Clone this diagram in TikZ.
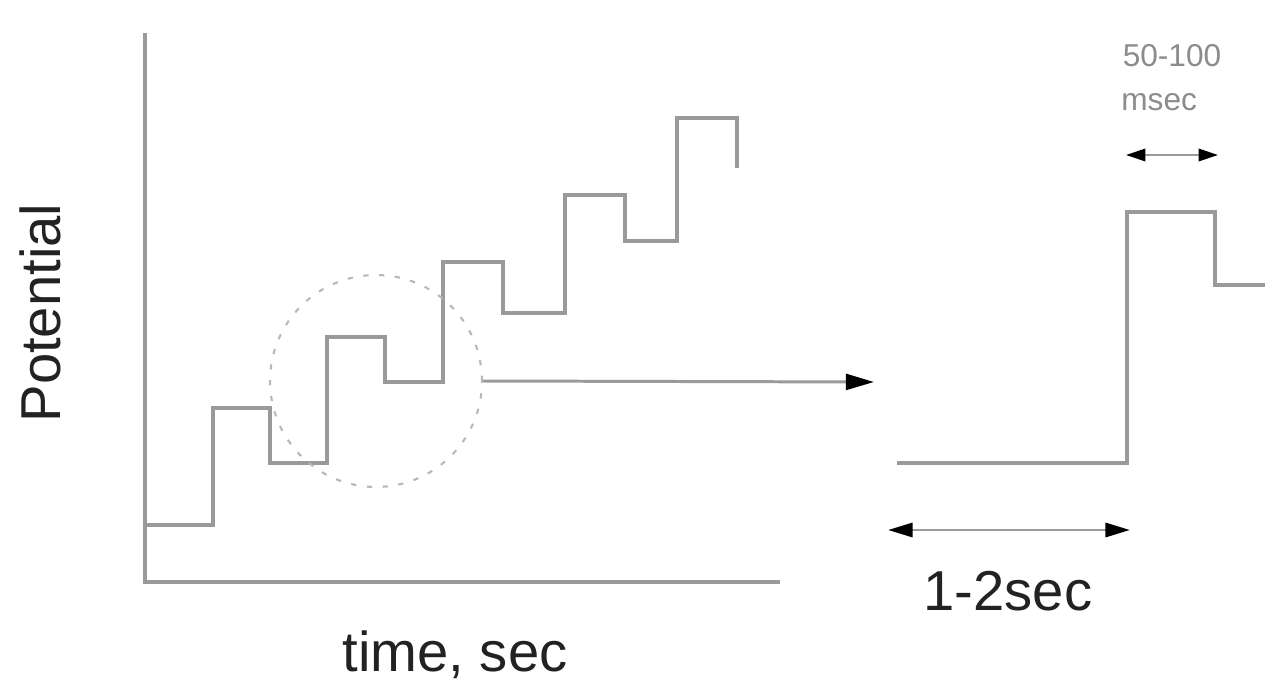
\documentclass[tikz,border=0pt]{standalone}
\usepackage{fontspec}
\setmainfont{Liberation Sans}
\usetikzlibrary{arrows.meta}
\definecolor{trace}{HTML}{9A9A9A}
\definecolor{ink}{HTML}{222222}
\definecolor{faint}{HTML}{8C8C8C}
\tikzset{
  trace/.style={draw=trace, line width=1.9pt, line join=miter},
  zoomring/.style={draw=trace!70, line width=1.2pt, dash pattern=on 3pt off 6pt},
  bigtext/.style={text=ink, font=\fontsize{32}{38}\selectfont, inner sep=0pt},
  smalltext/.style={text=faint, font=\fontsize{18}{22}\selectfont, inner sep=0pt},
  dimarrow/.style={trace, line width=1.7pt, {Triangle[length=14pt,width=8pt,color=black]}-{Triangle[length=14pt,width=8pt,color=black]}},
  smallarrow/.style={trace, line width=1.4pt, {Triangle[length=11pt,width=7pt,color=black]}-{Triangle[length=11pt,width=7pt,color=black]}},
  leadarrow/.style={trace, line width=1.7pt, -{Triangle[length=16pt,width=9pt,color=black]}}
}
\begin{document}
\begin{tikzpicture}[x=0.02cm, y=-0.02cm]
\useasboundingbox (0,0) rectangle (1270,685);

% axes
\coordinate (ytop) at (145,33);
\coordinate (orig) at (145,582);
\coordinate (xend) at (780,582);
\draw[trace] (ytop) -- (orig) -- (xend);

% rising staircase of potential steps
\draw[trace] (145,525) -- (213,525) -- (213,408) -- (270,408) -- (270,463)
  -- (327,463) -- (327,337) -- (385,337) -- (385,382) -- (443,382)
  -- (443,262) -- (503,262) -- (503,313) -- (565,313) -- (565,195)
  -- (625,195) -- (625,241) -- (677,241) -- (677,118) -- (737,118) -- (737,168);

% magnified step
\node[zoomring, circle, minimum size=4.24cm, inner sep=0pt] (ring) at (376,381) {};
\coordinate (lead) at (874,382);
\draw[leadarrow] (ring.east) -- (lead);

% single step in detail
\coordinate (s0) at (897,463);
\coordinate (s1) at (1127,463);
\coordinate (s2) at (1127,212);
\coordinate (s3) at (1215,212);
\coordinate (s4) at (1215,285);
\coordinate (s5) at (1265,285);
\draw[trace] (s0) -- (s1) -- (s2) -- (s3) -- (s4) -- (s5);

% durations
\coordinate (d1a) at (888,530);
\coordinate (d1b) at (1130,530);
\draw[dimarrow] (d1a) -- (d1b);
\coordinate (d2a) at (1126,155);
\coordinate (d2b) at (1218,155);
\draw[smallarrow] (d2a) -- (d2b);

% labels
\node[bigtext] (lsec) at (1008,591) {1-2sec};
\node[bigtext] (ltime) at (455,655) {time, sec};
\node[bigtext, rotate=90] (lpot) at (40,313) {Potential};
\node[smalltext] (lms1) at (1172,56) {50-100};
\node[smalltext, anchor=west] (lms2) at (1121,102) {msec};
\end{tikzpicture}
\end{document}
